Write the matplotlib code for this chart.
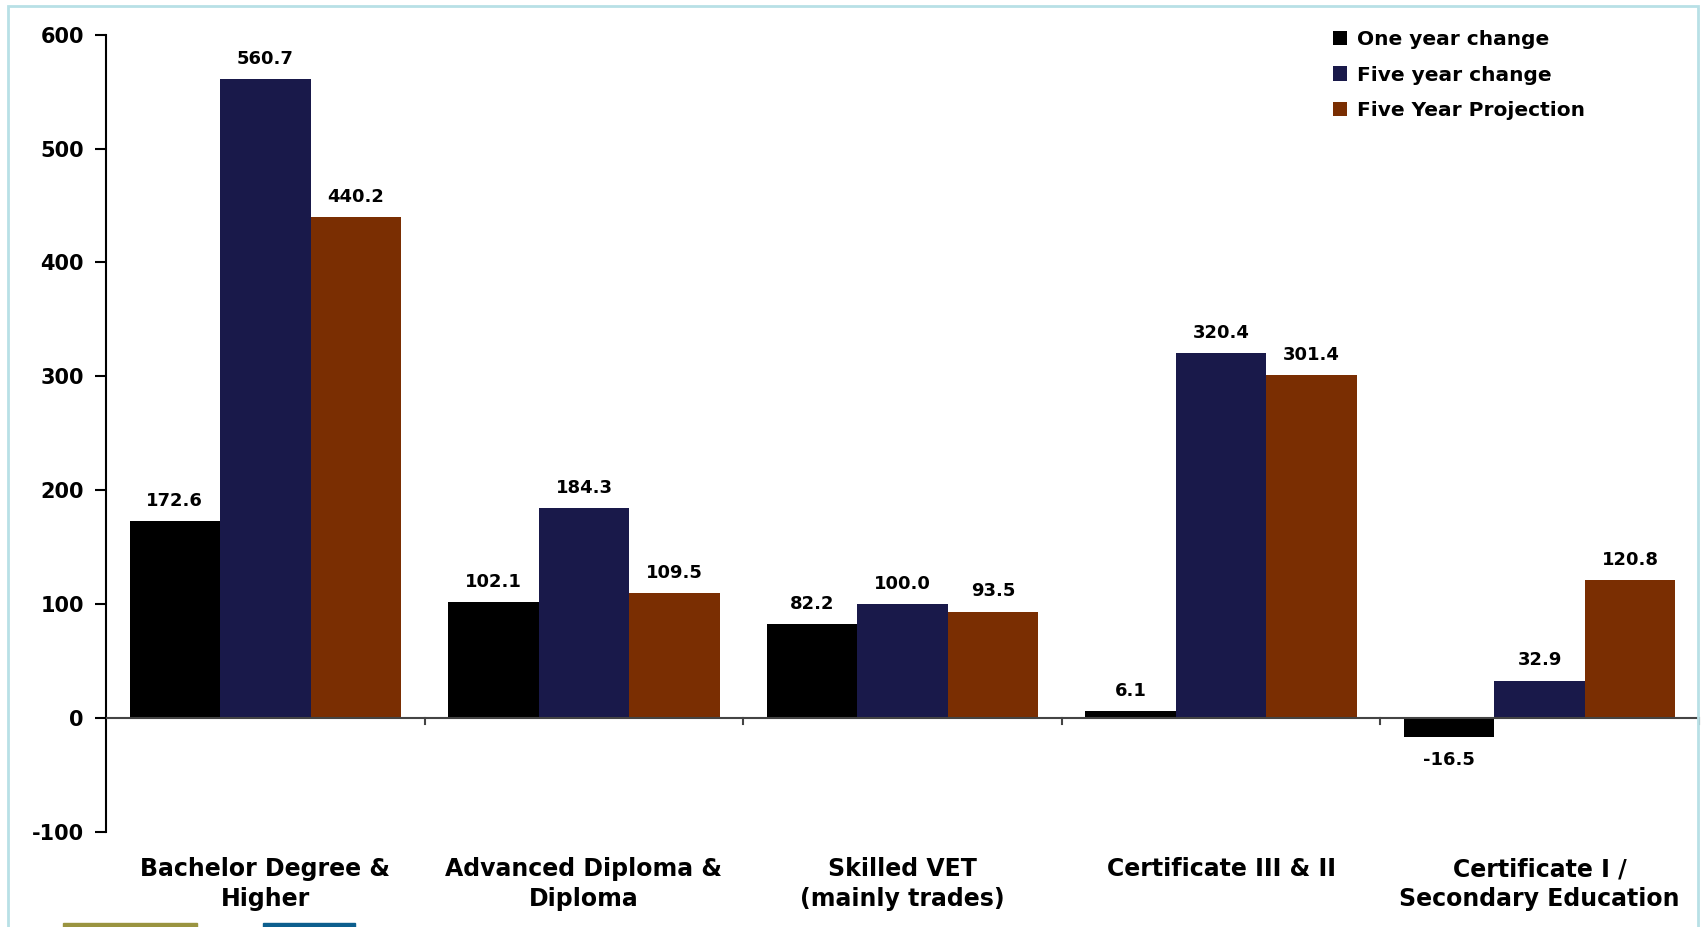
import matplotlib.pyplot as plt
import numpy as np
from matplotlib.patches import Rectangle

plt.rcParams['font.family'] = ['DejaVu Sans']
plt.rcParams['font.weight'] = 'bold'
plt.rcParams['axes.unicode_minus'] = False

categories = ['Bachelor Degree &\nHigher', 'Advanced Diploma &\nDiploma',
              'Skilled VET\n(mainly trades)', 'Certificate III & II',
              'Certificate I /\nSecondary Education']
one_year = [172.6, 102.1, 82.2, 6.1, -16.5]
five_year = [560.7, 184.3, 100.0, 320.4, 32.9]
projection = [440.2, 109.5, 93.5, 301.4, 120.8]

series = [('One year change', one_year, '#000000'),
          ('Five year change', five_year, '#19194a'),
          ('Five Year Projection', projection, '#7a2e02')]

fig = plt.figure(figsize=(17.05, 9.27), dpi=100)
ax = fig.add_axes([0.0622, 0.1025, 0.9343, 0.8601])

x = np.arange(len(categories))
w = 0.284
for i, (name, vals, col) in enumerate(series):
    pos = x + (i - 1) * w
    ax.bar(pos, vals, w, color=col, label=name, zorder=2)
    for px, v in zip(pos, vals):
        if v >= 0:
            ax.annotate(f'{v:.1f}', (px, v), xytext=(0, 8), textcoords='offset points',
                        ha='center', va='bottom', fontsize=13, fontweight='bold')
        else:
            ax.annotate(f'{v:.1f}', (px, v), xytext=(0, -10), textcoords='offset points',
                        ha='center', va='top', fontsize=13, fontweight='bold')

ax.set_xlim(-0.5, len(categories) - 0.5)
ax.set_ylim(-100, 600)
ax.set_yticks([-100, 0, 100, 200, 300, 400, 500, 600])
ax.tick_params(axis='y', labelsize=15, length=8, width=1.5, pad=8)

# category axis sits on zero, ticks at group boundaries
ax.spines['top'].set_visible(False)
ax.spines['right'].set_visible(False)
ax.spines['bottom'].set_visible(False)
ax.spines['left'].set_linewidth(1.5)
ax.axhline(0, color='#444444', lw=1.5, zorder=3)
for b in np.arange(0.5, len(categories), 1.0):
    ax.plot([b, b], [0, -5], color='#444444', lw=1.5, zorder=3, clip_on=False)
ax.set_xticks([])
for xi, lab in zip(x, categories):
    ax.text(xi, -122, lab, ha='center', va='top', fontsize=17, fontweight='bold',
            linespacing=1.3)

ax.legend(loc='upper right', bbox_to_anchor=(0.94, 1.028), frameon=False,
          handlelength=0.7, handleheight=0.7, handletextpad=0.5, labelspacing=0.8,
          prop={'weight': 'bold', 'size': 14.5})

# slide frame and footer strips
fig.patches.append(Rectangle((0.0045, -0.01), 0.9915, 1.004, transform=fig.transFigure,
                             fill=False, edgecolor='#b8e0e6', lw=2))
fig.patches.append(Rectangle((63 / 1705, 0), 134 / 1705, 4 / 927, transform=fig.transFigure,
                             color='#9a9440'))
fig.patches.append(Rectangle((263 / 1705, 0), 92 / 1705, 4 / 927, transform=fig.transFigure,
                             color='#0d5f8e'))

fig.savefig('out.png', dpi=100)
